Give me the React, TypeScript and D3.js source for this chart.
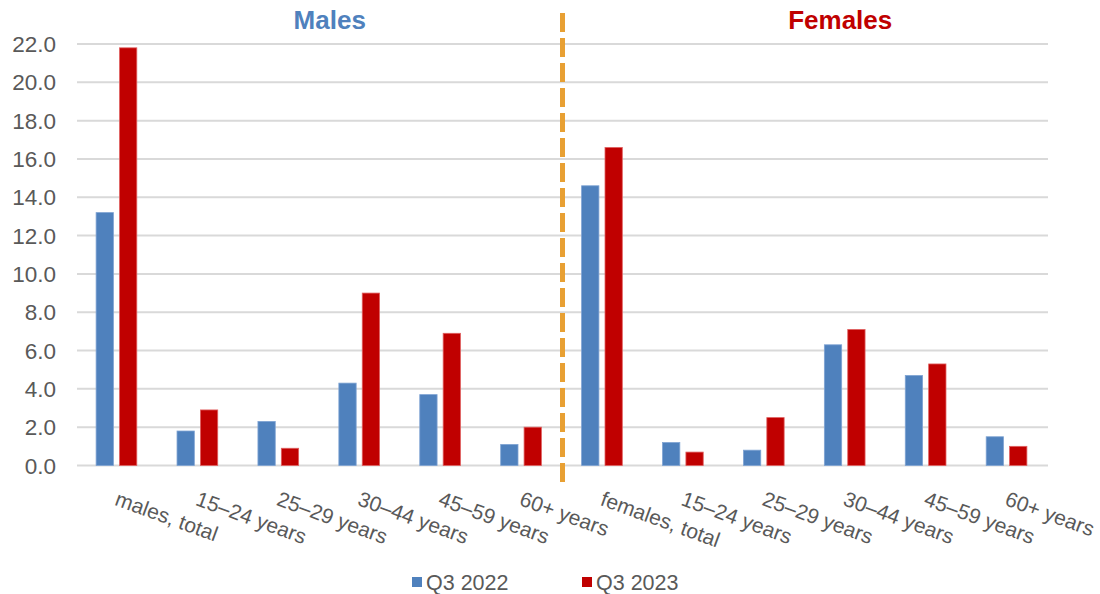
import React from "react";
import * as d3 from "d3";

const categories = [
  "males, total", "15–24 years", "25–29 years", "30–44 years", "45–59 years", "60+ years",
  "females, total", "15–24 years ", "25–29 years ", "30–44 years ", "45–59 years ", "60+ years ",
];
const seriesNames = ["Q3 2022", "Q3 2023"];
const q3_2022 = [13.2, 1.8, 2.3, 4.3, 3.7, 1.1, 14.6, 1.2, 0.8, 6.3, 4.7, 1.5];
const q3_2023 = [21.8, 2.9, 0.9, 9.0, 6.9, 2.0, 16.6, 0.7, 2.5, 7.1, 5.3, 1.0];
const yTicks = [0, 2, 4, 6, 8, 10, 12, 14, 16, 18, 20, 22];
const colors = ["#4F81BD", "#C00000"];
const groupTitles = ["Males", "Females"];

export default function App() {
  const W = 1100, H = 594;
  const left = 77, right = 1048, top = 44, bottom = 465.5;
  const x0 = d3.scaleBand<number>().domain(d3.range(categories.length)).range([left, right]);
  const bw = x0.bandwidth();
  const groupW = bw * 0.503;
  const x1 = d3.scaleBand<number>().domain([0, 1]).range([0, groupW]).paddingInner(0.26);
  const y = d3.scaleLinear().domain([0, 22]).range([bottom, top]);
  const fmt = d3.format(".1f");
  const values = [q3_2022, q3_2023];
  const divX = x0(6)!;
  const malesX = (x0(0)! + x0(5)! + bw) / 2 + 10;
  const femalesX = (x0(6)! + x0(11)! + bw) / 2 + 35;
  const font = "'Liberation Sans', Arial, sans-serif";

  return (
    <svg width={W} height={H} style={{ position: "absolute", left: 0, top: 0, background: "#fff" }} fontFamily={font}>
      {yTicks.map((t) => (
        <g key={t}>
          <line x1={left} x2={right} y1={y(t)} y2={y(t)} stroke="#D9D9D9" strokeWidth={2} />
          <text x={56} y={y(t)} dy="0.36em" textAnchor="end" fontSize={22.5} fill="#595959">{fmt(t)}</text>
        </g>
      ))}
      {categories.map((c, i) => {
        const gx = x0(i)! + (bw - groupW) / 2 - 1;
        return (
          <g key={i}>
            {values.map((vals, s) => (
              <rect key={s} x={gx + x1(s)!} y={y(vals[i])} width={x1.bandwidth()} height={bottom - y(vals[i])}
                fill={colors[s]} stroke={s === 0 ? "#7FA3D3" : "#E06060"} strokeWidth={0.8} />
            ))}
            <text transform={`translate(${x0(i)! + bw / 2 + 2},${489}) rotate(20)`} dy="0.8em" fontSize={21} fill="#595959">{c.trim()}</text>
          </g>
        );
      })}
      <line x1={divX} x2={divX} y1={13} y2={486} stroke="#E8A033" strokeWidth={5} strokeDasharray="19 6" />
      <text x={malesX} y={29} textAnchor="middle" fontSize={26} fontWeight="bold" fill="#4F81BD">{groupTitles[0]}</text>
      <text x={femalesX} y={29} textAnchor="middle" fontSize={26} fontWeight="bold" fill="#C00000">{groupTitles[1]}</text>
      {seriesNames.map((s, i) => {
        const lx = 412 + i * 170;
        return (
          <g key={s}>
            <rect x={lx} y={577} width={10} height={10} fill={colors[i]} />
            <text x={lx + 14} y={589.5} fontSize={21.5} fill="#595959">{s}</text>
          </g>
        );
      })}
    </svg>
  );
}
